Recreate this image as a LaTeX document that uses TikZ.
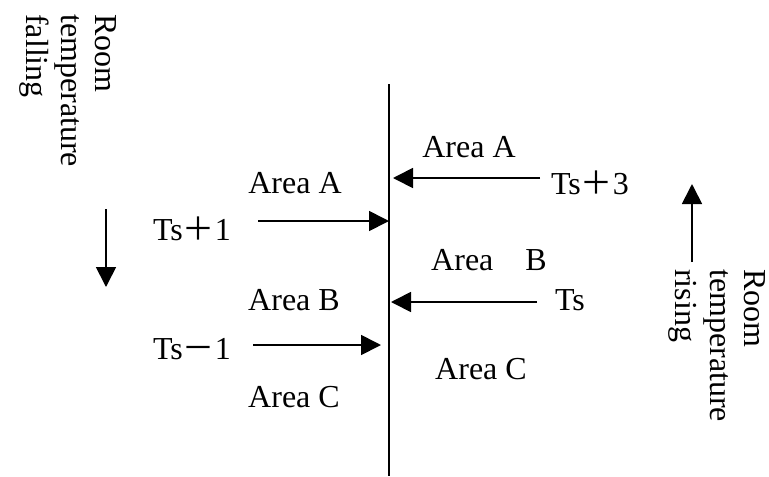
\documentclass[tikz,border=0pt]{standalone}
\usepackage{fontspec}
\setmainfont{Liberation Serif}
\newfontfamily\cjk{Noto Sans CJK SC}
\usetikzlibrary{arrows.meta}
\tikzset{
  lbl/.style={font=\fontsize{24}{26}\selectfont, inner sep=0pt},
  rot/.style={lbl, rotate=-90, anchor=north west, align=left},
  arr/.style={line width=1.3pt, -{Triangle[length=15pt,width=15pt]}},
}
\newcommand{\fwplus}{{\cjk ＋}}
\newcommand{\fwminus}{{\cjk －}}
\begin{document}
\begin{tikzpicture}[x=0.75pt,y=-0.75pt]
\useasboundingbox (0,0) rectangle (769,476);
% central vertical line
\coordinate (vtop) at (389,84);
\coordinate (vbot) at (389,476);
\draw[line width=1.3pt] (vtop) -- (vbot);

% left side labels
\node[lbl] (la) at (295,183) {Area A};
\node[lbl] (tp1) at (192,229) {Ts\fwplus 1};
\node[lbl] (lb) at (294,300) {Area B};
\node[lbl] (tm1) at (192,349) {Ts\fwminus 1};
\node[lbl] (lc) at (294,397) {Area C};

% right side labels
\node[lbl] (ra) at (469,147) {Area A};
\node[lbl] (tp3) at (590,183) {Ts\fwplus 3};
\node[lbl] (rb) at (489,260) {Area\quad B};
\node[lbl] (ts) at (570,300) {Ts};
\node[lbl] (rc) at (481,369) {Area C};

% horizontal arrows
\coordinate (a1s) at (258,221); \coordinate (a1e) at (389,221);
\coordinate (a2s) at (253,345); \coordinate (a2e) at (381,345);
\coordinate (a3s) at (540,178); \coordinate (a3e) at (393,178);
\coordinate (a4s) at (537,302); \coordinate (a4e) at (391,302);
\draw[arr] (a1s) -- (a1e);
\draw[arr] (a2s) -- (a2e);
\draw[arr] (a3s) -- (a3e);
\draw[arr] (a4s) -- (a4e);

% vertical indicator arrows
\coordinate (d1s) at (106,209); \coordinate (d1e) at (106,287);
\coordinate (u1s) at (692,262); \coordinate (u1e) at (692,184);
\draw[arr] (d1s) -- (d1e);
\draw[arr] (u1s) -- (u1e);

% rotated texts
\node[rot] (fall) at (117,14) {Room\\temperature\\falling};
\node[rot] (rise) at (766,269) {Room\\temperature\\rising};
\end{tikzpicture}
\end{document}
